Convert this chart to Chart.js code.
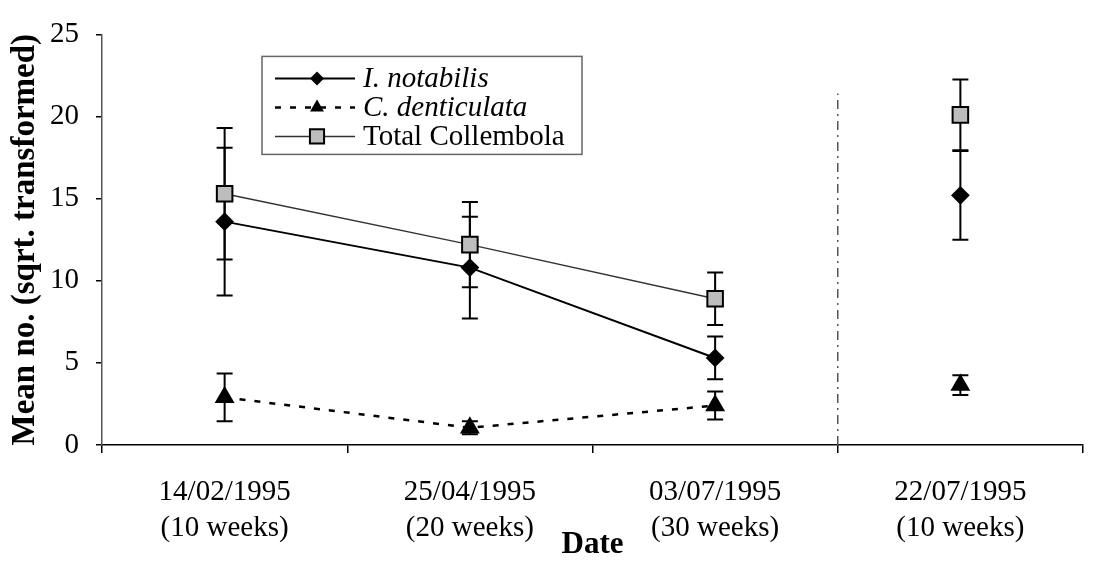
<!DOCTYPE html>
<html>
<head>
<meta charset="utf-8">
<script src="https://cdn.jsdelivr.net/npm/chart.js@4/dist/chart.umd.min.js"></script>
<style>
  html, body { margin: 0; padding: 0; background: #fff; }
  #wrap { width: 1096px; height: 564px; }
</style>
</head>
<body>
<div id="wrap"><canvas id="collembola-chart"></canvas></div>
<script>
// sampling dates and time since start
var dateLabels = ['14/02/1995', '25/04/1995', '03/07/1995', '22/07/1995'];
var periodLabels = ['(10 weeks)', '(20 weeks)', '(30 weeks)', '(10 weeks)'];

// means (sqrt transformed) and error bar half-lengths
var notabilis = [13.6, 10.8, 5.3, 15.2];
var notabilisErr = [4.5, 3.1, 1.3, 2.7];
var denticulata = [2.9, 1.05, 2.4, 3.65];
var denticulataErr = [1.45, 0.4, 0.85, 0.6];
var total = [15.3, 12.2, 8.9, 20.1];
var totalErr = [4.0, 2.6, 1.6, 2.15];

var yTicks = [0, 5, 10, 15, 20, 25];

var serif = 'Liberation Serif';

// the last date is a separate run, so no line joins it
function breakLast(ctx) {
  return ctx.p1DataIndex === 3 ? 'rgba(0,0,0,0)' : undefined;
}

function drawMarker(ctx, style, x, y, r, fill, stroke, lw) {
  ctx.save();
  ctx.beginPath();
  if (style === 'rectRot') {
    ctx.moveTo(x, y - r); ctx.lineTo(x + r, y); ctx.lineTo(x, y + r); ctx.lineTo(x - r, y);
  } else if (style === 'triangle') {
    ctx.moveTo(x, y - r); ctx.lineTo(x + r * 0.87, y + r / 2); ctx.lineTo(x - r * 0.87, y + r / 2);
  } else {
    var s = r * Math.SQRT1_2;
    ctx.rect(x - s, y - s, 2 * s, 2 * s);
  }
  ctx.closePath();
  ctx.fillStyle = fill;
  ctx.fill();
  if (lw) { ctx.lineWidth = lw; ctx.strokeStyle = stroke; ctx.stroke(); }
  ctx.restore();
}

var errorBars = {
  id: 'errorBars',
  beforeDatasetsDraw: function (chart) {
    var ctx = chart.ctx, x = chart.scales.x, y = chart.scales.y;
    ctx.save();
    ctx.strokeStyle = '#000';
    ctx.lineWidth = 2;
    chart.data.datasets.forEach(function (ds) {
      ds.data.forEach(function (v, i) {
        var px = x.getPixelForValue(i);
        var top = y.getPixelForValue(v + ds.errors[i]);
        var bot = y.getPixelForValue(v - ds.errors[i]);
        ctx.beginPath();
        ctx.moveTo(px, top); ctx.lineTo(px, bot);
        ctx.moveTo(px - 8, top); ctx.lineTo(px + 8, top);
        ctx.moveTo(px - 8, bot); ctx.lineTo(px + 8, bot);
        ctx.stroke();
      });
    });
    ctx.restore();
  }
};

var divider = {
  id: 'divider',
  beforeDatasetsDraw: function (chart) {
    var ctx = chart.ctx, x = chart.scales.x, y = chart.scales.y;
    var px = (x.getPixelForValue(2) + x.getPixelForValue(3)) / 2;
    ctx.save();
    ctx.strokeStyle = '#555';
    ctx.lineWidth = 1.5;
    ctx.setLineDash([9, 5, 2, 5]);
    ctx.beginPath();
    ctx.moveTo(px, y.getPixelForValue(0));
    ctx.lineTo(px, y.getPixelForValue(21.4));
    ctx.stroke();
    ctx.restore();
  }
};

var boxLegend = {
  id: 'boxLegend',
  afterDraw: function (chart) {
    var ctx = chart.ctx, area = chart.chartArea;
    var left = area.left + 160, top = area.top + 22, w = 320, h = 98;
    ctx.save();
    ctx.fillStyle = '#fff';
    ctx.fillRect(left, top, w, h);
    ctx.strokeStyle = '#666';
    ctx.lineWidth = 1.5;
    ctx.strokeRect(left, top, w, h);
    chart.data.datasets.forEach(function (ds, i) {
      var cy = top + 22 + i * 29;
      ctx.save();
      ctx.strokeStyle = ds.borderColor;
      ctx.lineWidth = ds.borderWidth;
      ctx.setLineDash(ds.borderDash || []);
      ctx.beginPath();
      ctx.moveTo(left + 13, cy); ctx.lineTo(left + 93, cy);
      ctx.stroke();
      ctx.restore();
      drawMarker(ctx, ds.pointStyle, left + 55, cy, ds.legendRadius, ds.pointBackgroundColor,
        ds.pointBorderColor, ds.pointStyle === 'rect' ? 2 : 0);
      ctx.fillStyle = '#000';
      ctx.textBaseline = 'middle';
      ctx.textAlign = 'left';
      ctx.font = (ds.italic ? 'italic ' : '') + '29px "' + serif + '"';
      ctx.fillText(ds.label, left + 101, cy + 1);
    });
    ctx.restore();
  }
};

var chartEl = document.getElementById('collembola-chart');
var collembolaChart = new Chart(chartEl, {
  type: 'line',
  data: {
    labels: dateLabels.map(function (d, i) { return [d, periodLabels[i]]; }),
    datasets: [{
      label: 'I. notabilis',
      italic: true,
      data: notabilis,
      errors: notabilisErr,
      borderColor: '#000',
      borderWidth: 2,
      pointStyle: 'rectRot',
      pointRadius: 8,
      legendRadius: 7,
      pointBackgroundColor: '#000',
      pointBorderColor: '#000',
      lineTension: 0,
      segment: { borderColor: breakLast }
    }, {
      label: 'C. denticulata',
      italic: true,
      data: denticulata,
      errors: denticulataErr,
      borderColor: '#000',
      borderWidth: 2.5,
      borderDash: [6, 9],
      pointStyle: 'triangle',
      pointRadius: 9,
      legendRadius: 8,
      pointBackgroundColor: '#000',
      pointBorderColor: '#000',
      lineTension: 0,
      segment: { borderColor: breakLast }
    }, {
      label: 'Total Collembola',
      italic: false,
      data: total,
      errors: totalErr,
      borderColor: '#333',
      borderWidth: 1.5,
      pointStyle: 'rect',
      pointRadius: 11,
      legendRadius: 10,
      pointBorderWidth: 2,
      pointBackgroundColor: '#bdbdbd',
      pointBorderColor: '#000',
      lineTension: 0,
      segment: { borderColor: breakLast }
    }]
  },
  options: {
    responsive: true,
    maintainAspectRatio: false,
    animation: false,
    layout: { padding: { top: 18, right: 2, left: 0, bottom: 0 } },
    plugins: {
      legend: { display: false },
      tooltip: { enabled: false }
    },
    scales: {
      x: {
        offset: true,
        afterFit: function (s) { s.height = 119; },
        grid: { display: true, drawOnChartArea: false, drawTicks: true, tickLength: 8, color: '#000', lineWidth: 1.5, offset: true },
        border: { display: true, color: '#000', width: 1.5 },
        ticks: {
          color: '#000',
          padding: 21,
          maxRotation: 0,
          autoSkip: false,
          font: { family: serif, size: 29, lineHeight: 1.24 }
        },
        title: {
          display: true,
          text: 'Date',
          color: '#000',
          padding: { top: 0, bottom: 0 },
          font: { family: serif, size: 31, weight: 'bold', lineHeight: 1.2 }
        }
      },
      y: {
        min: 0,
        max: 25,
        afterFit: function (s) { s.width = 102; },
        afterBuildTicks: function (s) { s.ticks = yTicks.map(function (v) { return { value: v }; }); },
        grid: { display: true, drawOnChartArea: false, drawTicks: true, tickLength: 6, color: '#000', lineWidth: 1.5 },
        border: { display: true, color: '#555', width: 1.5, dash: [10, 4] },
        ticks: {
          color: '#000',
          padding: 17,
          font: { family: serif, size: 29 }
        },
        title: {
          display: true,
          text: 'Mean no. (sqrt. transformed)',
          color: '#000',
          padding: { top: 6, bottom: 0 },
          font: { family: serif, size: 33, weight: 'bold', lineHeight: 1.2 }
        }
      }
    }
  },
  plugins: [divider, errorBars, boxLegend]
});
</script>
</body>
</html>
